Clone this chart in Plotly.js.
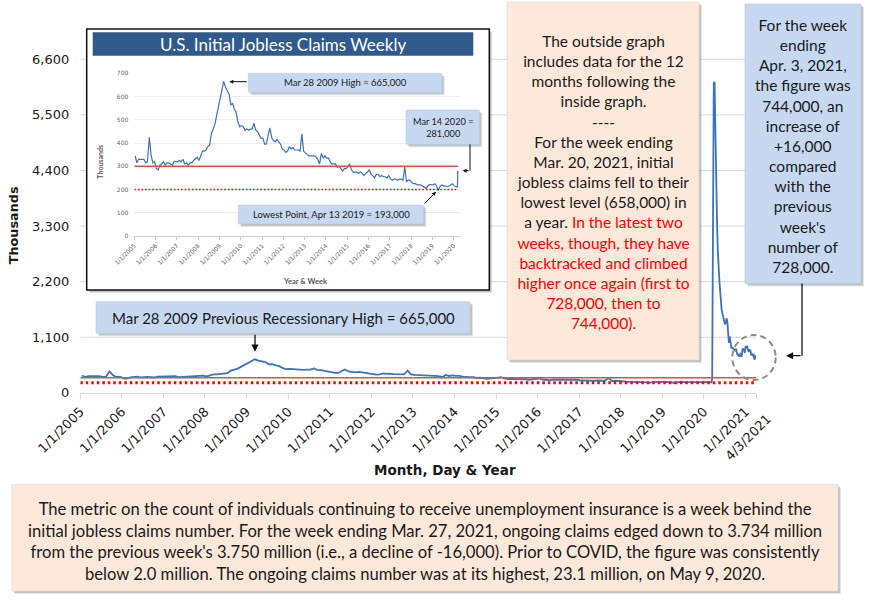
<!DOCTYPE html>
<html>
<head>
<meta charset="utf-8">
<script src="https://cdn.plot.ly/plotly-3.0.1.min.js"></script>
<style>
body { margin: 0; background: #fff; }
#chart { width: 870px; height: 600px; }
</style>
</head>
<body>
<div id="chart"></div>
<script>
// initial jobless claims, thousands - monthly level (Jan 2005 .. Feb 2020)
let claims2005 = [345, 315, 330, 330, 330, 330, 315, 320, 425, 350, 315, 320];
let claims2006 = [290, 285, 305, 310, 320, 305, 315, 315, 310, 305, 320, 320];
let claims2007 = [320, 325, 320, 330, 310, 315, 305, 315, 315, 325, 335, 340];
let claims2008 = [325, 350, 365, 365, 370, 385, 390, 440, 460, 480, 520, 560];
let claims2009 = [590, 630, 665, 640, 625, 610, 565, 570, 545, 530, 490, 470];
let claims2010 = [475, 470, 455, 460, 455, 460, 460, 485, 455, 450, 435, 420];
let claims2011 = [420, 395, 395, 430, 465, 425, 410, 405, 415, 405, 395, 375];
let claims2012 = [370, 360, 365, 385, 375, 380, 370, 370, 370, 365, 440, 365];
let claims2013 = [355, 350, 345, 345, 345, 345, 340, 330, 310, 355, 335, 345];
let claims2014 = [335, 335, 320, 310, 310, 310, 295, 300, 290, 280, 290, 290];
let claims2015 = [300, 310, 285, 275, 275, 275, 270, 275, 270, 260, 270, 275];
let claims2016 = [285, 265, 260, 250, 265, 265, 255, 260, 255, 255, 250, 260];
let claims2017 = [245, 240, 245, 245, 240, 245, 245, 240, 298, 235, 240, 240];
let claims2018 = [230, 225, 225, 220, 220, 220, 215, 210, 205, 215, 222, 220];
let claims2019 = [220, 225, 215, 196, 215, 220, 215, 215, 212, 215, 222, 225];
let claims2020 = [215, 212];

// weekly from the week ending Mar 7 2020 to Apr 3 2021
let weeklyStart = '2020-03-07';
let weeklyClaims = [211, 281, 2920, 6137, 6149, 4971, 4281, 3448, 2849, 2403, 2229, 2016, 1750,
  1624, 1568, 1488, 1445, 1356, 1380, 1476, 1417, 1197, 991, 1116, 1018, 893, 899, 876, 871,
  849, 840, 873, 792, 756, 757, 716, 748, 787, 716, 862, 866, 848, 790, 926, 904, 914, 847,
  812, 848, 841, 758, 766, 725, 770, 658, 728, 744];

let refHigh = 300;
let refLow = 200;
let firstDay = '2005-01-01';
let lastWeek = '2021-04-03';
let insetEnd = '2020-03-14';
let yTicks = [0, 1100, 2200, 3300, 4400, 5500, 6600];
let insetYTicks = [0, 100, 200, 300, 400, 500, 600, 700];
let mainYears = [2005, 2006, 2007, 2008, 2009, 2010, 2011, 2012, 2013, 2014, 2015, 2016, 2017, 2018, 2019, 2020, 2021];
let insetYears = mainYears.slice(0, 16);

let yearly = [claims2005, claims2006, claims2007, claims2008, claims2009, claims2010, claims2011,
  claims2012, claims2013, claims2014, claims2015, claims2016, claims2017, claims2018, claims2019, claims2020];

let dates = [];
let values = [];
yearly.forEach(function (arr, i) {
  arr.forEach(function (v, m) {
    dates.push((2005 + i) + '-' + String(m + 1).padStart(2, '0') + '-15');
    values.push(v);
  });
});
let t0 = Date.parse(weeklyStart + 'T00:00:00Z');
weeklyClaims.forEach(function (v, k) {
  dates.push(new Date(t0 + k * 7 * 86400000).toISOString().slice(0, 10));
  values.push(v);
});

let insetDates = [];
let insetValues = [];
dates.forEach(function (d, i) {
  if (d <= insetEnd) { insetDates.push(d); insetValues.push(values[i]); }
});

const W = 870, H = 600;
function px(x) { return x / W; }
function py(y) { return 1 - y / H; }

const BLUE = '#3E72BA';
const RED = '#D9504C';
const DOT = '#FF0000';
const TEXT = '#1a1a1a';

let traces = [
  { x: dates, y: values, type: 'scatter', mode: 'lines', line: { color: BLUE, width: 1.8 }, xaxis: 'x', yaxis: 'y' },
  { x: [firstDay, lastWeek], y: [refHigh, refHigh], mode: 'lines', line: { color: RED, width: 1.6 }, xaxis: 'x', yaxis: 'y' },
  { x: [firstDay, lastWeek], y: [refLow, refLow], mode: 'lines', line: { color: DOT, width: 3, dash: '2.5px,3px' }, xaxis: 'x', yaxis: 'y' },
  { x: insetDates, y: insetValues, type: 'scatter', mode: 'lines', line: { color: BLUE, width: 1.2 }, xaxis: 'x2', yaxis: 'y2' },
  { x: [firstDay, insetEnd], y: [refHigh, refHigh], mode: 'lines', line: { color: RED, width: 1.3 }, xaxis: 'x2', yaxis: 'y2' },
  { x: [firstDay, insetEnd], y: [refLow, refLow], mode: 'lines', line: { color: DOT, width: 1.6, dash: '1.6px,2px' }, xaxis: 'x2', yaxis: 'y2' }
];

let shapes = [];
// main horizontal gridlines (as shapes so the inset panel can cover them)
yTicks.slice(1).forEach(function (v) {
  shapes.push({ type: 'line', xref: 'paper', yref: 'y', x0: px(80.3), x1: px(756), y0: v, y1: v,
    line: { color: '#d9d9d9', width: 1 }, layer: 'below' });
});

function rect(x0, y0, x1, y1, fill, border, bw, layer) {
  return { type: 'rect', xref: 'paper', yref: 'paper', x0: px(x0), x1: px(x1), y0: py(y1), y1: py(y0),
    fillcolor: fill, line: { color: border || 'rgba(0,0,0,0)', width: bw || 0 }, layer: layer || 'above' };
}
function shadowBox(x0, y0, x1, y1, fill, border, bw, layer) {
  shapes.push(rect(x0 + 3, y0 + 3, x1 + 3, y1 + 3, 'rgba(0,0,0,0.10)', null, 0, layer));
  shapes.push(rect(x0 + 2, y0 + 2, x1 + 2, y1 + 2, 'rgba(0,0,0,0.14)', null, 0, layer));
  shapes.push(rect(x0, y0, x1, y1, fill, border, bw, layer));
}

// inset panel
shadowBox(86.7, 29, 489.3, 290, '#ffffff', '#111111', 1.5, 'below');
shapes.push(rect(92.7, 32.3, 473.3, 55.7, '#305A8C', null, 0, 'above'));

// boxes
shadowBox(96, 301.7, 470, 333.3, '#C6D9F1', '#b3c6e0', 0.5);
shadowBox(507, 2, 699, 360, '#FDE9DA', '#e5d2c2', 0.5);
shadowBox(745, 4, 861, 283.5, '#C6D9F1', '#a9bfdc', 0.5);
shadowBox(11.7, 484.5, 838, 591, '#FDE9DA', '#e5d2c2', 0.5);
shadowBox(248.3, 73.3, 441.7, 92.3, '#C6D9F1', '#b3c6e0', 0.5);
shadowBox(406, 110, 479.3, 144.3, '#C6D9F1', '#b3c6e0', 0.5);
shadowBox(238.3, 205, 423.3, 224, '#C6D9F1', '#b3c6e0', 0.5);

// elbow connectors
shapes.push({ type: 'line', xref: 'paper', yref: 'paper', x0: px(802), x1: px(802), y0: py(283.5), y1: py(355.7),
  line: { color: '#111', width: 1.3 }, layer: 'above' });
shapes.push({ type: 'line', xref: 'paper', yref: 'paper', x0: px(470), x1: px(470), y0: py(144.3), y1: py(170.7),
  line: { color: '#111', width: 1 }, layer: 'above' });

// dashed circle round the latest weeks
shapes.push({ type: 'circle', xref: 'paper', yref: 'paper', x0: px(732.3), x1: px(775.7), y0: py(380), y1: py(335),
  line: { color: '#8c8c8c', width: 2, dash: '6px,4px' }, fillcolor: 'rgba(0,0,0,0)', layer: 'above' });

function note(x, y, text, size, opts) {
  return Object.assign({ xref: 'paper', yref: 'paper', x: px(x), y: py(y), text: text, showarrow: false,
    xanchor: 'center', yanchor: 'middle', align: 'center',
    font: { family: 'Lato, sans-serif', size: size, color: TEXT } }, opts || {});
}
function arrow(tx, ty, ax, ay, w, s) {
  return { xref: 'paper', yref: 'paper', x: px(tx), y: py(ty), ax: ax, ay: ay, text: '', showarrow: true,
    arrowhead: 2, arrowsize: s, arrowwidth: w, arrowcolor: '#111' };
}
function red(s) { return '<span style="color:#FF0000">' + s + '</span>'; }

let peachLines = [
  'The outside graph', 'includes data for the 12', 'months following the', 'inside graph.', '----',
  'For the week ending', 'Mar. 20, 2021, initial', 'jobless claims fell to their', 'lowest level (658,000) in',
  'a year. ' + red('In the latest two'), red('weeks, though, they have'), red('backtracked and climbed'),
  red('higher once again (first to'), red('728,000, then to'), red('744,000).')
];
let blueLines = ['For the week', 'ending', 'Apr. 3, 2021,', 'the figure was', '744,000, an', 'increase of',
  '+16,000', 'compared', 'with the', 'previous', "week's", 'number of', '728,000.'];
let bottomLines = [
  'The metric on the count of individuals continuing to receive unemployment insurance is a week behind the',
  'initial jobless claims number. For the week ending Mar. 27, 2021, ongoing claims edged down to 3.734 million',
  "from the previous week's 3.750 million (i.e., a decline of -16,000). Prior to COVID, the figure was consistently",
  'below 2.0 million. The ongoing claims number was at its highest, 23.1 million, on May 9, 2020.'
];

let annotations = [
  note(283, 44, 'U.S. Initial Jobless Claims Weekly', 17, { font: { family: 'Lato, sans-serif', size: 17, color: '#ffffff' } }),
  note(603, 182, peachLines.join('<br>'), 15.5),
  note(803, 146, blueLines.join('<br>'), 15.5),
  note(425, 541, bottomLines.join('<br>'), 16.6),
  note(283, 317.5, 'Mar 28 2009 Previous Recessionary High = 665,000', 15),
  note(345, 82.8, 'Mar 28 2009 High = 665,000', 9.5),
  note(442.7, 127.2, 'Mar 14 2020 =<br>281,000', 9.2),
  note(331, 214.7, 'Lowest Point, Apr 13 2019 = 193,000', 9.5),
  note(13.3, 225, '<b>Thousands</b>', 12.8, { textangle: -90, font: { family: 'DejaVu Sans, sans-serif', size: 12.8, color: TEXT } }),
  note(445, 470, '<b>Month, Day &amp; Year</b>', 13.5, { font: { family: 'DejaVu Sans, sans-serif', size: 13.5, color: TEXT } }),
  note(100, 161.7, '<b>Thousands</b>', 7, { textangle: -90, font: { family: 'Lato, sans-serif', size: 7, color: '#595959' } }),
  note(305, 281.7, '<b>Year &amp; Week</b>', 7.5, { font: { family: 'Lato, sans-serif', size: 7.5, color: '#595959' } }),
  note(748, 437.5, '4/3/2021', 13, { textangle: -45, font: { family: 'DejaVu Sans, sans-serif', size: 13, color: TEXT } }),
  arrow(255, 351.7, 0, -18.4, 1.3, 1.1),
  arrow(786, 355.7, 16, 0, 1.3, 1.1),
  arrow(229.3, 81.7, 19, 0, 1, 0.8),
  arrow(462.7, 170.7, 7.3, 0, 1, 0.8),
  arrow(436, 191.7, -12.7, 13.3, 1, 0.8)
];

let layout = {
  width: W, height: H,
  margin: { l: 0, r: 0, t: 0, b: 0 },
  paper_bgcolor: '#ffffff', plot_bgcolor: 'rgba(0,0,0,0)',
  showlegend: false,
  xaxis: {
    domain: [px(80.3), px(756)], range: [firstDay, lastWeek], type: 'date',
    tickvals: mainYears.map(function (y) { return y + '-01-01'; }).concat([lastWeek]),
    ticktext: mainYears.map(function (y) { return '1/1/' + y; }).concat(['']),
    tickangle: -45, tickfont: { family: 'DejaVu Sans, sans-serif', size: 13, color: TEXT },
    showline: true, linecolor: '#d9d9d9', linewidth: 1, ticks: 'outside', ticklen: 5, tickcolor: '#d9d9d9',
    showgrid: false, zeroline: false, fixedrange: true
  },
  yaxis: {
    domain: [py(392.9), py(13.8)], range: [0, 7500],
    tickvals: yTicks, tickformat: ',', ticks: '', ticklabelstandoff: 10,
    tickfont: { family: 'DejaVu Sans, sans-serif', size: 13, color: TEXT },
    showgrid: false, showline: false, zeroline: false, fixedrange: true
  },
  xaxis2: {
    domain: [px(134.3), px(460)], range: [firstDay, '2020-04-20'], type: 'date', anchor: 'y2',
    tickvals: insetYears.map(function (y) { return y + '-01-01'; }),
    ticktext: insetYears.map(function (y) { return '1/1/' + y; }),
    tickangle: -45, tickfont: { family: 'DejaVu Sans, sans-serif', size: 6, color: '#666666' },
    showline: true, linecolor: '#d0d0d0', ticks: 'outside', ticklen: 3, tickcolor: '#d0d0d0',
    showgrid: false, zeroline: false, fixedrange: true
  },
  yaxis2: {
    domain: [py(236), py(73.3)], range: [0, 700], anchor: 'x2',
    tickvals: insetYTicks, ticks: '', ticklabelstandoff: 5,
    tickfont: { family: 'DejaVu Sans, sans-serif', size: 6, color: '#666666' },
    showgrid: true, gridcolor: '#ececec', showline: false, zeroline: false, fixedrange: true
  },
  shapes: shapes,
  annotations: annotations
};

Plotly.newPlot('chart', traces, layout, { displayModeBar: false, staticPlot: true });
</script>
</body>
</html>
